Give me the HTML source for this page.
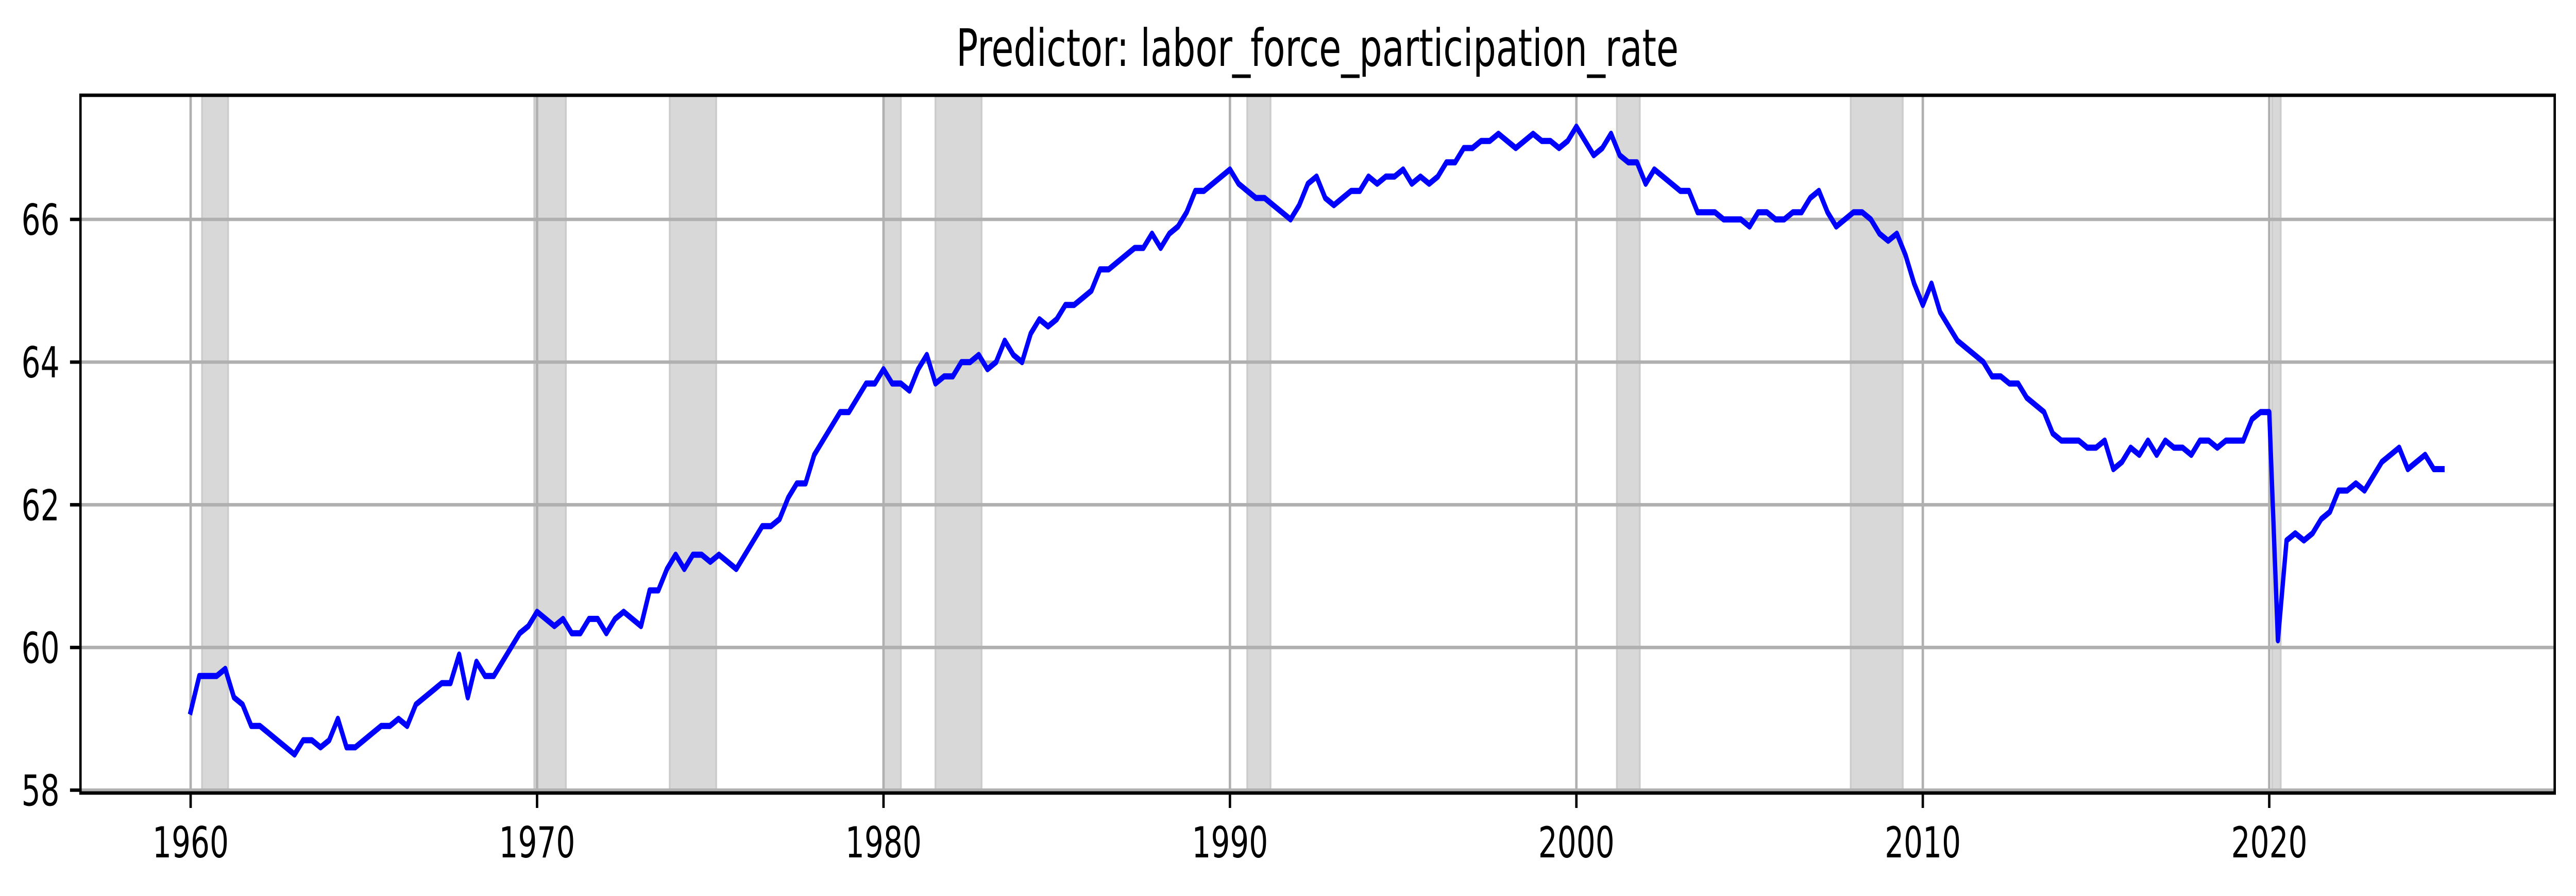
<!DOCTYPE html>
<html><head><meta charset="utf-8"><style>
html,body{margin:0;padding:0;background:#fff;width:100%;height:100%;overflow:hidden;}
svg{display:block;width:100vw;height:100vh;font-family:"DejaVu Sans","Liberation Sans",sans-serif;}
</style></head><body>
<svg id="chart" viewBox="0 0 7139 1740" preserveAspectRatio="none" xmlns="http://www.w3.org/2000/svg">
<rect x="0" y="0" width="7139" height="1740" fill="#fff"/>
<text x="3651" y="128" text-anchor="middle" font-size="100" fill="#000">Predictor: labor_force_participation_rate</text>
<g id="spans"></g>
<g id="grid"></g>
<g id="series"></g>
<g id="axes"></g>
</svg>
<script>
const startYear = 1960;
const values = [
59.1,59.6,59.6,59.6, 59.7,59.3,59.2,58.9, 58.9,58.8,58.7,58.6, 58.5,58.7,58.7,58.6,
58.7,59.0,58.6,58.6, 58.7,58.8,58.9,58.9, 59.0,58.9,59.2,59.3, 59.4,59.5,59.5,59.9,
59.3,59.8,59.6,59.6, 59.8,60.0,60.2,60.3, 60.5,60.4,60.3,60.4, 60.2,60.2,60.4,60.4,
60.2,60.4,60.5,60.4, 60.3,60.8,60.8,61.1, 61.3,61.1,61.3,61.3, 61.2,61.3,61.2,61.1,
61.3,61.5,61.7,61.7, 61.8,62.1,62.3,62.3, 62.7,62.9,63.1,63.3, 63.3,63.5,63.7,63.7,
63.9,63.7,63.7,63.6, 63.9,64.1,63.7,63.8, 63.8,64.0,64.0,64.1, 63.9,64.0,64.3,64.1,
64.0,64.4,64.6,64.5, 64.6,64.8,64.8,64.9, 65.0,65.3,65.3,65.4, 65.5,65.6,65.6,65.8,
65.6,65.8,65.9,66.1, 66.4,66.4,66.5,66.6, 66.7,66.5,66.4,66.3, 66.3,66.2,66.1,66.0,
66.2,66.5,66.6,66.3, 66.2,66.3,66.4,66.4, 66.6,66.5,66.6,66.6, 66.7,66.5,66.6,66.5,
66.6,66.8,66.8,67.0, 67.0,67.1,67.1,67.2, 67.1,67.0,67.1,67.2, 67.1,67.1,67.0,67.1,
67.3,67.1,66.9,67.0, 67.2,66.9,66.8,66.8, 66.5,66.7,66.6,66.5, 66.4,66.4,66.1,66.1,
66.1,66.0,66.0,66.0, 65.9,66.1,66.1,66.0, 66.0,66.1,66.1,66.3, 66.4,66.1,65.9,66.0,
66.1,66.1,66.0,65.8, 65.7,65.8,65.5,65.1, 64.8,65.1,64.7,64.5, 64.3,64.2,64.1,64.0,
63.8,63.8,63.7,63.7, 63.5,63.4,63.3,63.0, 62.9,62.9,62.9,62.8, 62.8,62.9,62.5,62.6,
62.8,62.7,62.9,62.7, 62.9,62.8,62.8,62.7, 62.9,62.9,62.8,62.9, 62.9,62.9,63.2,63.3,
63.3,60.1,61.5,61.6, 61.5,61.6,61.8,61.9, 62.2,62.2,62.3,62.2, 62.4,62.6,62.7,62.8,
62.5,62.6,62.7,62.5, 62.5
];
const recessionStarts = [1960.33,1969.92,1973.83,1980.0,1981.5,1990.5,2001.17,2007.92,2020.08];
const recessionEnds   = [1961.08,1970.83,1975.17,1980.5,1982.83,1991.17,2001.83,2009.42,2020.33];
const xTicks = [1960,1970,1980,1990,2000,2010,2020];
const yTicks = [58,60,62,64,66];

const L=223,R=7080,T=185,B=1540;
const xMin=1956.82,xMax=2028.24,yMin=57.96,yMax=67.74;
function xs(v){return L+(v-xMin)/(xMax-xMin)*(R-L);}
function ys(v){return B-(v-yMin)/(yMax-yMin)*(B-T);}
const NS="http://www.w3.org/2000/svg";
function mk(tag,attrs,parent){const e=document.createElementNS(NS,tag);for(const k in attrs)e.setAttribute(k,attrs[k]);parent.appendChild(e);return e;}
const spans=document.getElementById('spans'),grid=document.getElementById('grid'),series=document.getElementById('series'),axes=document.getElementById('axes');

recessionStarts.forEach((s,i)=>{
  const r=mk('rect',{x:xs(s),y:T,width:xs(recessionEnds[i])-xs(s),height:B-T,fill:'#d8d8d8',stroke:'#cccccc','stroke-width':5},spans);
  
  
});
xTicks.forEach(t=>{
  const g=mk('line',{x1:xs(t),x2:xs(t),y1:T,y2:B,stroke:'#b0b0b0','stroke-width':6.7},grid);
  
  
});
yTicks.forEach(t=>{
  const g=mk('line',{x1:L,x2:R,y1:ys(t),y2:ys(t),stroke:'#b0b0b0','stroke-width':6.7},grid);
  
  
});
let d='';
values.forEach((v,i)=>{d+=(i?'L':'M')+xs(startYear+i*0.25).toFixed(1)+' '+ys(v).toFixed(1);});
const p=mk('path',{d:d,fill:'none',stroke:'#0000ff','stroke-width':12,'stroke-linejoin':'round','stroke-linecap':'square'},series);



const frame=mk('rect',{x:L,y:T,width:R-L,height:B-T,fill:'none',stroke:'#000','stroke-width':6.7},axes);


xTicks.forEach(t=>{
  const tk=mk('line',{x1:xs(t),x2:xs(t),y1:B,y2:B+29,stroke:'#000','stroke-width':6.7},axes);
  
  
  const lb=mk('text',{x:xs(t),y:1665,'text-anchor':'middle','font-size':83,fill:'#000'},axes);
  lb.textContent=t;
  
  
});
yTicks.forEach(t=>{
  const tk=mk('line',{x1:L-29,x2:L,y1:ys(t),y2:ys(t),stroke:'#000','stroke-width':6.7},axes);
  
  
  const lb=mk('text',{x:L-58,y:ys(t)+30,'text-anchor':'end','font-size':83,fill:'#000'},axes);
  lb.textContent=t;
  
  
});
</script>
</body></html>
